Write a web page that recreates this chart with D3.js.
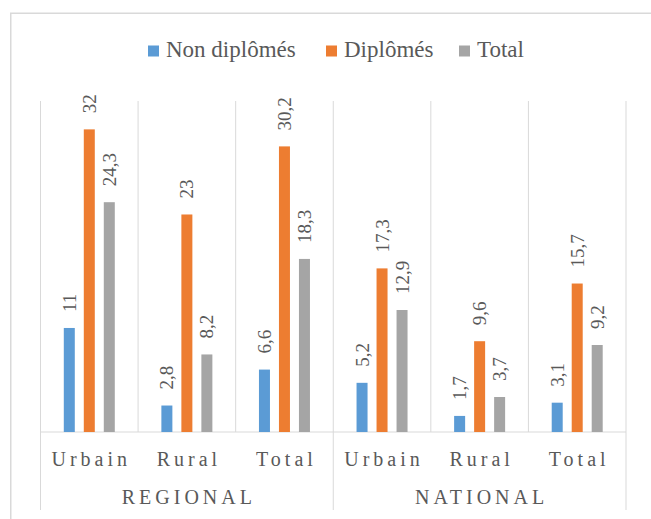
<!DOCTYPE html>
<html><head><meta charset="utf-8">
<script src="https://cdn.jsdelivr.net/npm/d3@7"></script>
</head>
<body style="margin:0"><svg id="c" width="651" height="519" style="font-family:'Liberation Serif' !important"></svg>
<script>
const groups = ["REGIONAL", "NATIONAL"];
const categories = ["Urbain", "Rural", "Total"];
const seriesNames = ["Non diplômés", "Diplômés", "Total"];
const colors = ["#5b9bd5", "#ed7d31", "#a5a5a5"];
const nonDiplomes = [11, 2.8, 6.6, 5.2, 1.7, 3.1];
const diplomes = [32, 23, 30.2, 17.3, 9.6, 15.7];
const total = [24.3, 8.2, 18.3, 12.9, 3.7, 9.2];
const series = [nonDiplomes, diplomes, total];

const svg = d3.select("#c");
const txt = "#595959", grid = "#d9d9d9";
const FF = '"Liberation Serif"';
function serif(sel) {
  sel.attr("font-family", FF);
  sel.node().style.setProperty("font-family", '"Liberation Serif"', "important");
  return sel;
}

svg.append("rect").attr("x", 10.75).attr("y", 13.25).attr("width", 700).attr("height", 600)
  .attr("fill", "none").attr("stroke", grid).attr("stroke-width", 1.5);

const slots = d3.range(groups.length * categories.length);
const x = d3.scaleBand().domain(slots).range([40.5, 626]).padding(0);
const y = d3.scaleLinear().domain([0, 35]).range([432, 101]);
const inner = d3.scaleBand().domain([0, 1, 2]).range([-25.5, 25.5]).paddingInner(0.45).paddingOuter(0);

slots.concat([slots.length]).forEach(i => {
  const xx = i < slots.length ? x(i) : x.range()[1];
  svg.append("line").attr("x1", xx).attr("x2", xx).attr("y1", y(35)).attr("y2", y(0))
    .attr("stroke", grid).attr("stroke-width", 1);
});
svg.append("line").attr("x1", x.range()[0]).attr("x2", x.range()[1]).attr("y1", y(0)).attr("y2", y(0))
  .attr("stroke", grid).attr("stroke-width", 1);
[0, 3, 6].forEach(i => {
  const xx = i < slots.length ? x(i) : x.range()[1];
  svg.append("line").attr("x1", xx).attr("x2", xx).attr("y1", y(0)).attr("y2", 510)
    .attr("stroke", grid).attr("stroke-width", 1);
});

series.forEach((vals, s) => {
  vals.forEach((v, i) => {
    const cx = x(i) + x.bandwidth() / 2;
    const bx = cx + inner(s);
    svg.append("rect").attr("x", bx).attr("y", y(v)).attr("width", inner.bandwidth())
      .attr("height", y(0) - y(v)).attr("fill", colors[s]);
    const lx = bx + inner.bandwidth() / 2, ly = y(v) - 16;
    serif(svg.append("text")).attr("transform", `translate(${lx},${ly}) rotate(-90)`)
      .attr("text-anchor", "start").attr("dy", "0.34em").attr("font-size", 19).attr("fill", txt)
      .text(String(v).replace(".", ","));
  });
});

slots.forEach(i => {
  serif(svg.append("text")).attr("x", x(i) + x.bandwidth() / 2 + 2).attr("y", 466)
    .attr("text-anchor", "middle").attr("font-size", 20).attr("letter-spacing", "4px")
    .attr("fill", txt).text(categories[i % 3]);
});
groups.forEach((g, gi) => {
  const cx = (x(gi * 3) + x(gi * 3 + 2) + x.bandwidth()) / 2 + 2;
  serif(svg.append("text")).attr("x", cx).attr("y", 504).attr("text-anchor", "middle")
    .attr("font-size", 20).attr("letter-spacing", "4px").attr("fill", txt).text(g);
});

const leg = svg.append("g");
const legX = [148, 326, 459];
seriesNames.forEach((n, i) => {
  leg.append("rect").attr("x", legX[i]).attr("y", 45.5).attr("width", 11).attr("height", 11).attr("fill", colors[i]);
  serif(leg.append("text")).attr("x", legX[i] + 18).attr("y", 56.7).attr("font-size", 23).attr("fill", txt).text(n);
});
</script></body></html>
